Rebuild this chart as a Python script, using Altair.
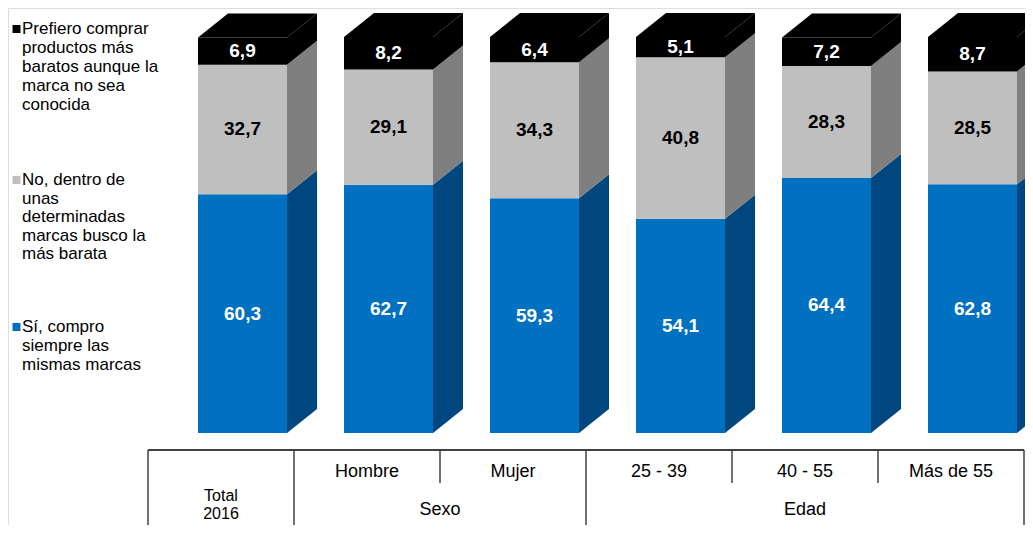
import altair as alt
import pandas as pd

# ---------------- data ----------------
categories = ["Total 2016", "Hombre", "Mujer", "25 - 39", "40 - 55", "Más de 55"]
si_siempre = [60.3, 62.7, 59.3, 54.1, 64.4, 62.8]
no_dentro = [32.7, 29.1, 34.3, 40.8, 28.3, 28.5]
prefiero = [6.9, 8.2, 6.4, 5.1, 7.2, 8.7]

series_names = [
    "Sí, compro siempre las mismas marcas",
    "No, dentro de unas determinadas marcas busco la más barata",
    "Prefiero comprar productos más baratos aunque la marca no sea conocida",
]
legend_lines = [
    ["Prefiero comprar", "productos más", "baratos aunque la", "marca no sea", "conocida"],
    ["No, dentro de", "unas", "determinadas", "marcas busco la", "más barata"],
    ["Sí, compro", "siempre las", "mismas marcas"],
]
row1_labels = ["Hombre", "Mujer", "25 - 39", "40 - 55", "Más de 55"]
group_labels = ["Sexo", "Edad"]
total_lines = ["Total", "2016"]

# ---------------- styling / layout ----------------
FRONT = ["#0070C0", "#BFBFBF", "#000000"]
SIDE = ["#00477F", "#7F7F7F", "#000000"]
LABEL_COL = ["#FFFFFF", "#000000", "#FFFFFF"]
FONT = "Liberation Sans"

W, H = 1017, 517
X0, STEP = 213, 146          # pixel of column-0 centre and column step
BASE, PPU = 425, 3.96        # pixel of value 0 and pixels per unit
x_dom = [-X0 / STEP, (W - X0) / STEP]
y_dom = [-(H - BASE) / PPU, BASE / PPU]
FOFF, FW = -23 / STEP, 89 / STEP   # front face offset / width (x units)
DX, DY = 30 / STEP, 24 / PPU       # depth of the 3D effect

xs = alt.Scale(domain=x_dom, nice=False, zero=False)
ys = alt.Scale(domain=y_dom, nice=False, zero=False)
px_x = alt.Scale(domain=[0, W], range=[0, W])
px_y = alt.Scale(domain=[0, H], range=[0, H])

front_rows, side_rows, top_rows, label_rows = [], [], [], []
for i in range(len(categories)):
    vals = [si_siempre[i], no_dentro[i], prefiero[i]]
    L = i + FOFF
    R = L + FW
    base = 0.0
    for s, v in enumerate(vals):
        y0, y1 = base, base + v
        front_rows.append(dict(x=L, x2=R, y=y0, y2=y1, c=FRONT[s]))
        key = f"{i}-{s}"
        side_rows.append(dict(k=key, x=R, yt=y1, yb=y0, c=SIDE[s]))
        side_rows.append(dict(k=key, x=R + DX, yt=y1 + DY, yb=y0 + DY, c=SIDE[s]))
        label_rows.append(dict(x=(L + R) / 2, y=(y0 + y1) / 2,
                               t=f"{v:.1f}".replace(".", ","), c=LABEL_COL[s]))
        base = y1
    T = base
    for (xx, yt, yb) in [(L, T, T), (L + DX, T + DY, T), (R, T + DY, T), (R + DX, T + DY, T + DY)]:
        top_rows.append(dict(k=str(i), x=xx, yt=yt, yb=yb, c=FRONT[2]))

front = alt.Chart(pd.DataFrame(front_rows)).mark_rect(stroke=None).encode(
    x=alt.X("x:Q", scale=xs, axis=None), x2="x2:Q",
    y=alt.Y("y:Q", scale=ys, axis=None, stack=None), y2="y2:Q",
    color=alt.Color("c:N", scale=None),
)
side = alt.Chart(pd.DataFrame(side_rows)).mark_area(interpolate="linear").encode(
    x=alt.X("x:Q", scale=xs, axis=None),
    y=alt.Y("yt:Q", scale=ys, axis=None, stack=None), y2="yb:Q",
    detail="k:N",
    color=alt.Color("c:N", scale=None),
)
top = alt.Chart(pd.DataFrame(top_rows)).mark_area(interpolate="linear").encode(
    x=alt.X("x:Q", scale=xs, axis=None),
    y=alt.Y("yt:Q", scale=ys, axis=None, stack=None), y2="yb:Q",
    detail="k:N",
    color=alt.Color("c:N", scale=None),
)
labels = alt.Chart(pd.DataFrame(label_rows)).mark_text(
    font=FONT, fontSize=19, fontWeight="bold", baseline="middle", align="center"
).encode(
    x=alt.X("x:Q", scale=xs, axis=None),
    y=alt.Y("y:Q", scale=ys, axis=None),
    text="t:N",
    color=alt.Color("c:N", scale=None),
)

# ---------------- legend (left) ----------------
leg_start = [21, 172, 319]
leg_gap = [19, 18.5, 19]
leg_sq_col = [FRONT[2], FRONT[1], FRONT[0]]
leg_text_rows, leg_sq_rows = [], []
for g, lines in enumerate(legend_lines):
    for j, ln in enumerate(lines):
        leg_text_rows.append(dict(px=14, py=leg_start[g] + j * leg_gap[g], t=ln))
    leg_sq_rows.append(dict(px=8.5, py=leg_start[g], c=leg_sq_col[g]))

leg_text = alt.Chart(pd.DataFrame(leg_text_rows)).mark_text(
    font=FONT, fontSize=17, align="left", baseline="middle", color="#000000"
).encode(
    x=alt.X("px:Q", scale=px_x, axis=None),
    y=alt.Y("py:Q", scale=px_y, axis=None),
    text="t:N",
)
leg_sq = alt.Chart(pd.DataFrame(leg_sq_rows)).mark_square(size=64, opacity=1).encode(
    x=alt.X("px:Q", scale=px_x, axis=None),
    y=alt.Y("py:Q", scale=px_y, axis=None),
    color=alt.Color("c:N", scale=None),
)

# ---------------- table below ----------------
TOP_Y, MID_Y = 442, 475
vlines = pd.DataFrame(
    [dict(x=i - 0.5, y=TOP_Y, y2=H) for i in [0, 1, 3, 6]]
    + [dict(x=i - 0.5, y=TOP_Y, y2=MID_Y) for i in [2, 4, 5]]
)
vrules = alt.Chart(vlines).mark_rule(color="#404040", strokeWidth=1.5).encode(
    x=alt.X("x:Q", scale=xs, axis=None),
    y=alt.Y("y:Q", scale=px_y, axis=None),
    y2="y2:Q",
)
hline = pd.DataFrame([dict(x=-0.5, x2=5.5, y=TOP_Y)])
hrule = alt.Chart(hline).mark_rule(color="#404040", strokeWidth=2).encode(
    x=alt.X("x:Q", scale=xs, axis=None), x2="x2:Q",
    y=alt.Y("y:Q", scale=px_y, axis=None),
)
tab_rows = [dict(x=i + 1, py=464, t=t) for i, t in enumerate(row1_labels)]
tab_rows += [dict(x=1.5, py=502, t=group_labels[0]), dict(x=4, py=502, t=group_labels[1])]
tab_text = alt.Chart(pd.DataFrame(tab_rows)).mark_text(
    font=FONT, fontSize=18, align="center", baseline="middle", color="#000000"
).encode(
    x=alt.X("x:Q", scale=xs, axis=None),
    y=alt.Y("py:Q", scale=px_y, axis=None),
    text="t:N",
)
tot_rows = [dict(x=0, py=488, t=total_lines[0]), dict(x=0, py=506, t=total_lines[1])]
tot_text = alt.Chart(pd.DataFrame(tot_rows)).mark_text(
    font=FONT, fontSize=16, align="center", baseline="middle", color="#000000"
).encode(
    x=alt.X("x:Q", scale=xs, axis=None),
    y=alt.Y("py:Q", scale=px_y, axis=None),
    text="t:N",
)

chart = alt.layer(
    front, side, top, labels, leg_sq, leg_text, vrules, hrule, tab_text, tot_text
).resolve_scale(x="independent", y="independent").properties(
    width=W, height=H, padding=0,
    autosize=alt.AutoSizeParams(type="none"),
).configure_view(stroke=None).configure(background="#FFFFFF")

chart.save("out.html", embed_options={"renderer": "svg", "actions": False})
